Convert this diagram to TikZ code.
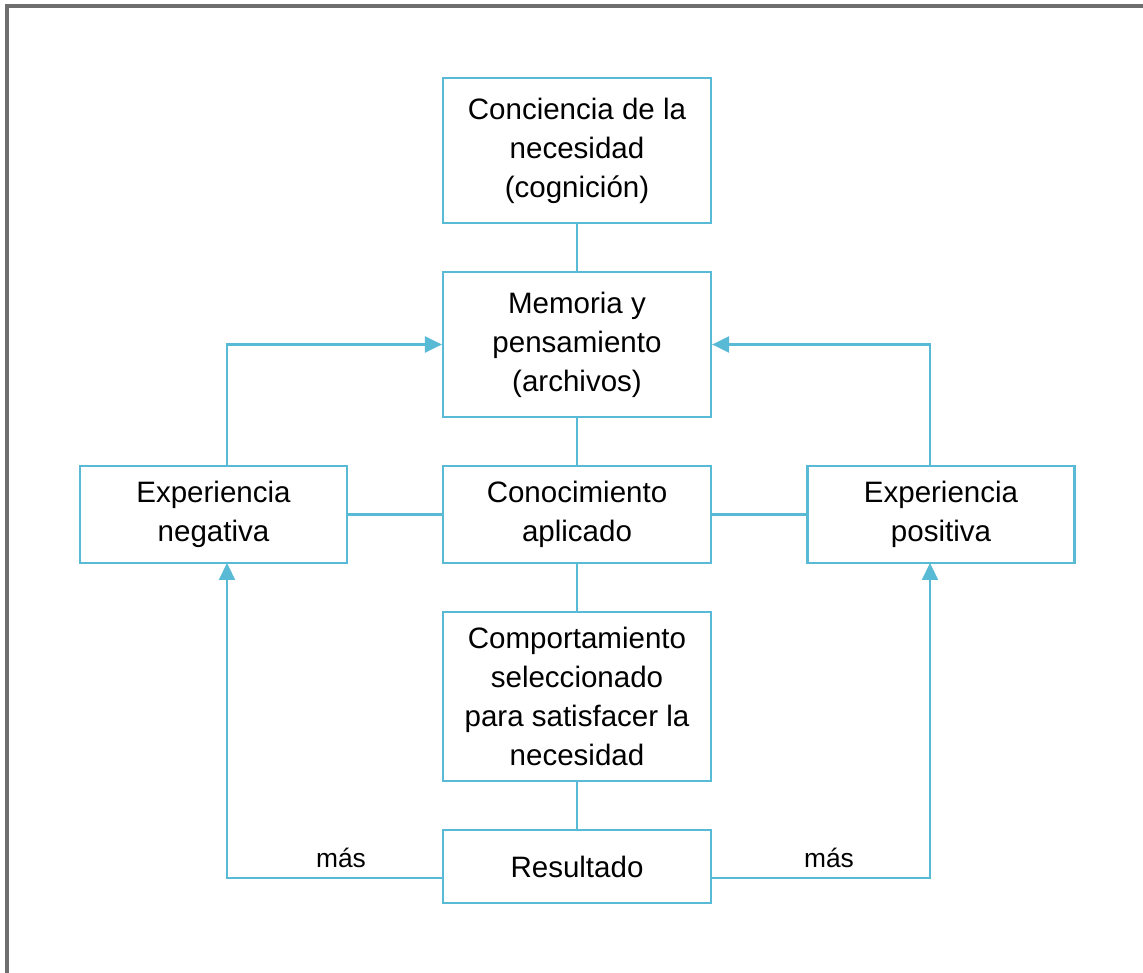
\documentclass[tikz,border=0pt]{standalone}
\usepackage{fontspec}
\setmainfont{Liberation Sans}
\usetikzlibrary{arrows.meta,calc}
\definecolor{linkblue}{RGB}{88,186,212}
\definecolor{framegray}{RGB}{110,110,110}
\begin{document}
\begin{tikzpicture}[x=0.02cm,y=-0.02cm,
  box/.style={draw=linkblue,line width=1.3pt,minimum width=5.36cm,inner sep=0pt,
    align=center,font=\fontsize{16.8}{22.2}\selectfont},
  link/.style={draw=linkblue,line width=1.3pt},
  arr/.style={link,-{Triangle[length=0.34cm,width=0.32cm]}},
  lbl/.style={font=\fontsize{15}{18}\selectfont,inner sep=0pt}]
\useasboundingbox (0,0) rectangle (1143,973);
% outer frame (top and left edges)
\draw[framegray,line width=2pt] (7,973) -- (7,6) -- (1143,6);

% boxes
\node[box,minimum height=2.9cm]  (conc) at (577,150.5) {Conciencia de la\\necesidad\\(cognición)};
\node[box,minimum height=2.9cm]  (mem)  at (577,344.5) {Memoria y\\pensamiento\\(archivos)};
\node[box,minimum height=1.94cm] (con)  at (577,514.5) {Conocimiento\\aplicado};
\node[box,minimum height=1.94cm,minimum width=5.34cm] (neg) at (213.5,514.5) {Experiencia\\negativa};
\node[box,minimum height=1.94cm,minimum width=5.34cm] (pos) at (941,514.5) {Experiencia\\positiva};
\node[box,minimum height=3.38cm] (comp) at (577,696.5) {Comportamiento\\seleccionado\\para satisfacer la\\necesidad};
\node[box,minimum height=1.46cm] (res)  at (577,866.5) {Resultado};

% vertical chain
\draw[link] (conc.south) -- (mem.north);
\draw[link] (mem.south) -- (con.north);
\draw[link] (con.south) -- (comp.north);
\draw[link] (comp.south) -- (res.north);

% side links
\draw[link] (con.west) -- (neg.east);
\draw[link] (con.east) -- (pos.west);

% feedback to memory
\coordinate (negtop) at (227,466);
\coordinate (postop) at (930,466);
\draw[arr] (negtop) |- (mem.west);
\draw[arr] (postop) |- (mem.east);

% outcome loops
\coordinate (resl) at (443,878);
\coordinate (resr) at (711,878);
\coordinate (negbot) at (227,563);
\coordinate (posbot) at (930,563);
\draw[arr] (resl) -| (negbot);
\draw[arr] (resr) -| (posbot);

\node[lbl] (masl) at (341,858) {más};
\node[lbl] (masr) at (829,858) {más};
\end{tikzpicture}
\end{document}
